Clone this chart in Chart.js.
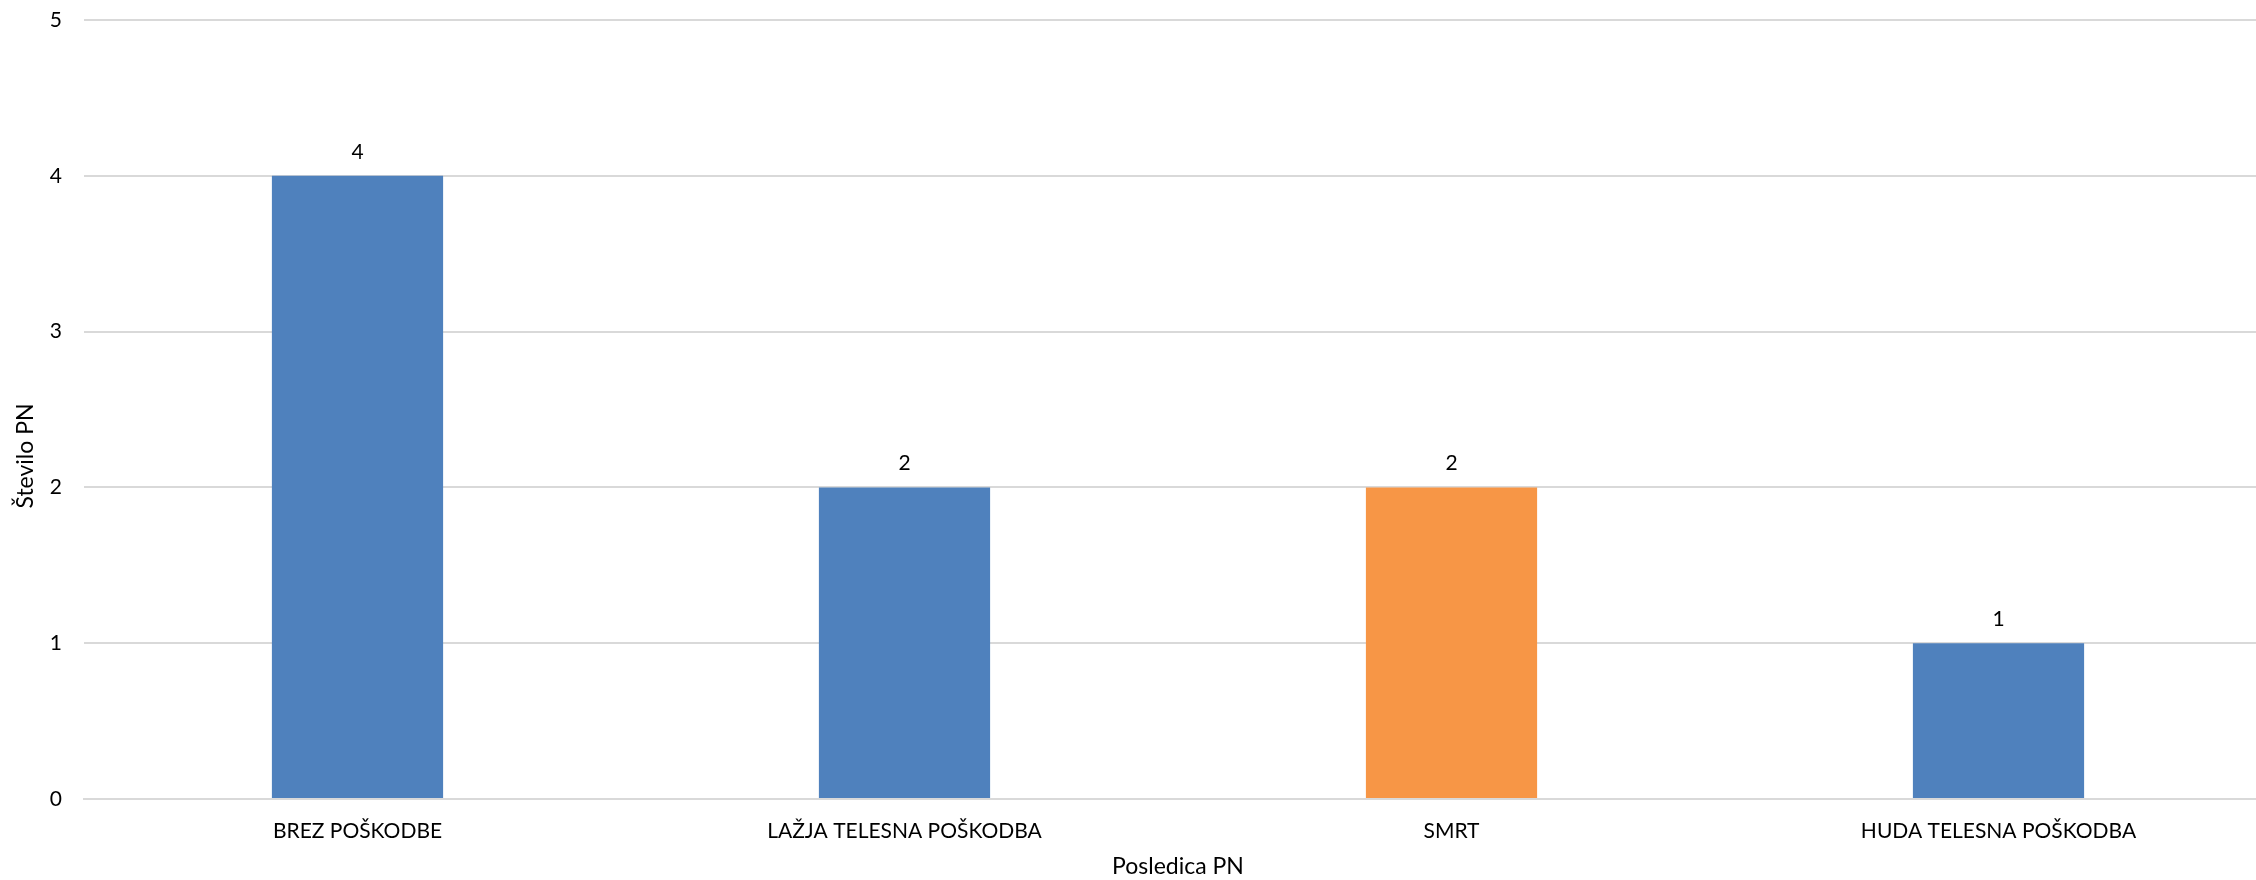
<!DOCTYPE html>
<html>
<head>
<meta charset="utf-8">
<script src="https://cdn.jsdelivr.net/npm/chart.js@4.4.1/dist/chart.umd.min.js"></script>
<style>
  html, body { margin: 0; padding: 0; background: #fff; overflow: hidden; }
  #wrap { position: relative; width: 2272px; height: 880px; }
</style>
</head>
<body>
<div id="wrap"><canvas id="myChart"></canvas></div>
<script>
// data
const categories = ['BREZ POŠKODBE', 'LAŽJA TELESNA POŠKODBA', 'SMRT', 'HUDA TELESNA POŠKODBA'];
const counts = [4, 2, 2, 1];
const barColors = ['#4F81BD', '#4F81BD', '#F79646', '#4F81BD'];
const yTicks = [0, 1, 2, 3, 4, 5];
const yTitle = 'Število PN';

const fontFamily = 'Lato, "Open Sans", sans-serif';

// value above each bar
const valueLabels = {
    id: 'valueLabels',
    afterDatasetsDraw(chart) {
        const ctx = chart.ctx;
        const meta = chart.getDatasetMeta(0);
        ctx.save();
        ctx.font = '21px ' + fontFamily;
        ctx.fillStyle = '#000';
        ctx.textAlign = 'center';
        ctx.textBaseline = 'middle';
        meta.data.forEach(function (bar, i) {
            ctx.fillText(String(counts[i]), bar.x, bar.y - 24);
        });
        ctx.restore();
    }
};

// y axis title, Excel puts it a bit below the middle of the plot
const yTitlePlugin = {
    id: 'yTitlePlugin',
    afterDraw(chart) {
        const ctx = chart.ctx;
        const area = chart.chartArea;
        ctx.save();
        ctx.translate(26, 456);
        ctx.rotate(-Math.PI / 2);
        ctx.font = '23px ' + fontFamily;
        ctx.fillStyle = '#000';
        ctx.textAlign = 'center';
        ctx.textBaseline = 'middle';
        ctx.fillText(yTitle, 0, 0);
        ctx.restore();
    }
};

const config = {
    type: 'bar',
    data: {
        labels: categories,
        datasets: [{
            data: counts,
            backgroundColor: barColors,
            borderWidth: 0,
            categoryPercentage: 1,
            barPercentage: 0.313
        }]
    },
    options: {
        responsive: true,
        maintainAspectRatio: false,
        animation: false,
        layout: { padding: { top: 20, right: 0, bottom: 0, left: 0 } },
        plugins: {
            legend: { display: false },
            tooltip: { enabled: false }
        },
        scales: {
            x: {
                grid: { display: false },
                border: { color: '#D9D9D9', width: 2 },
                ticks: { color: '#000', font: { family: fontFamily, size: 21 }, padding: 12, maxRotation: 0 },
                title: { display: true, text: 'Posledica PN', color: '#000', font: { family: fontFamily, size: 23 }, padding: { top: 10, bottom: 0 } },
                afterFit(scale) {
                    scale.height = 81;
                    scale.paddingLeft = 0;
                    scale.paddingRight = 0;
                }
            },
            y: {
                min: 0,
                max: 5,
                afterBuildTicks(scale) { scale.ticks = yTicks.map(v => ({ value: v })); },
                grid: { color: '#D9D9D9', lineWidth: 2, drawTicks: false },
                border: { display: false },
                ticks: { color: '#000', font: { family: fontFamily, size: 21 }, padding: 22 },
                afterFit(scale) {
                    scale.width = 84;
                    scale.paddingTop = 0;
                    scale.paddingBottom = 0;
                }
            }
        }
    },
    plugins: [valueLabels, yTitlePlugin]
};

let myChart = new Chart(document.getElementById('myChart').getContext('2d'), config);
</script>
</body>
</html>
